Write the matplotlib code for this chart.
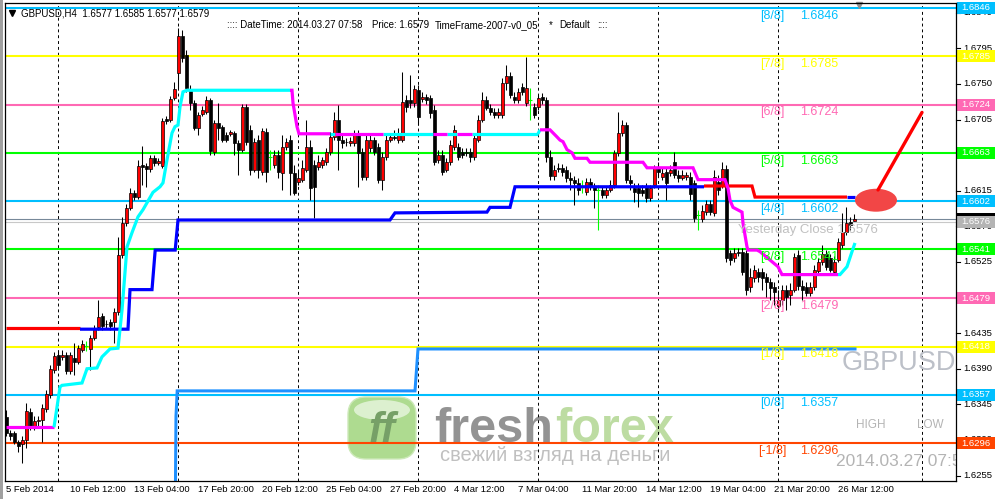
import matplotlib
matplotlib.use("Agg")
import matplotlib.pyplot as plt
from matplotlib.patches import Rectangle, Ellipse, FancyBboxPatch
from matplotlib.transforms import Affine2D

plt.rcParams['font.family'] = ['Liberation Sans', 'DejaVu Sans']

# ---------------- data (GBPUSD H4) ----------------
opens = [
    1.6329, 1.6309, 1.6309, 1.6297, 1.6295, 1.6300, 1.6335, 1.6318, 1.6324, 1.6325,
    1.6339, 1.6357, 1.6388, 1.6407, 1.6405, 1.6407, 1.6387, 1.6404, 1.6399, 1.6414,
    1.6419, 1.6415, 1.6429, 1.6443, 1.6457, 1.6447, 1.6449, 1.6449, 1.6462, 1.6534,
    1.6574, 1.6593, 1.6612, 1.6607, 1.6648, 1.6646, 1.6643, 1.6656, 1.6650, 1.6646,
    1.6706, 1.6704, 1.6732, 1.6764, 1.6811, 1.6787, 1.6742, 1.6726, 1.6694, 1.6712,
    1.6715, 1.6730, 1.6664, 1.6701, 1.6696, 1.6685, 1.6687, 1.6688, 1.6675, 1.6667,
    1.6721, 1.6692, 1.6641, 1.6679, 1.6639, 1.6689, 1.6658, 1.6647, 1.6660, 1.6637,
    1.6670, 1.6679, 1.6637, 1.6626, 1.6629, 1.6641, 1.6670, 1.6647, 1.6645, 1.6647,
    1.6651, 1.6664, 1.6683, 1.6704, 1.6679, 1.6677, 1.6675, 1.6675, 1.6685, 1.6664,
    1.6632, 1.6669, 1.6679, 1.6670, 1.6629, 1.6658, 1.6679, 1.6683, 1.6679, 1.6679,
    1.6730, 1.6730, 1.6726, 1.6742, 1.6731, 1.6734, 1.6732, 1.6717, 1.6654, 1.6660,
    1.6641, 1.6651, 1.6670, 1.6670, 1.6664, 1.6664, 1.6664, 1.6658, 1.6679, 1.6704,
    1.6730, 1.6720, 1.6715, 1.6711, 1.6711, 1.6751, 1.6760, 1.6734, 1.6730, 1.6746,
    1.6726, 1.6730, 1.6721, 1.6721, 1.6734, 1.6730, 1.6658, 1.6634, 1.6644, 1.6644,
    1.6641, 1.6631, 1.6629, 1.6625, 1.6621, 1.6613, 1.6626, 1.6620, 1.6616, 1.6616,
    1.6610, 1.6616, 1.6622, 1.6663, 1.6688, 1.6698, 1.6629, 1.6618, 1.6618, 1.6616,
    1.6620, 1.6606, 1.6622, 1.6644, 1.6632, 1.6639, 1.6637, 1.6651, 1.6635, 1.6631,
    1.6632, 1.6632, 1.6625, 1.6584, 1.6579, 1.6588, 1.6598, 1.6587, 1.6626, 1.6622,
    1.6642, 1.6536, 1.6530, 1.6538, 1.6538, 1.6536, 1.6493, 1.6505, 1.6512, 1.6512,
    1.6506, 1.6500, 1.6493, 1.6469, 1.6477, 1.6490, 1.6483, 1.6490, 1.6534, 1.6495,
    1.6493, 1.6486, 1.6493, 1.6514, 1.6525, 1.6535, 1.6530, 1.6512, 1.6527, 1.6546,
    1.6563, 1.6576, 1.6577]
highs = [
    1.6338, 1.6313, 1.6311, 1.6300, 1.6305, 1.6347, 1.6340, 1.6330, 1.6330, 1.6345,
    1.6363, 1.6395, 1.6411, 1.6414, 1.6414, 1.6411, 1.6411, 1.6423, 1.6420, 1.6426,
    1.6425, 1.6433, 1.6445, 1.6477, 1.6460, 1.6452, 1.6453, 1.6467, 1.6557, 1.6582,
    1.6598, 1.6618, 1.6616, 1.6654, 1.6672, 1.6650, 1.6660, 1.6660, 1.6656, 1.6707,
    1.6709, 1.6735, 1.6752, 1.6821, 1.6818, 1.6793, 1.6749, 1.6730, 1.6715, 1.6722,
    1.6735, 1.6732, 1.6704, 1.6726, 1.6698, 1.6689, 1.6692, 1.6691, 1.6679, 1.6725,
    1.6725, 1.6698, 1.6682, 1.6685, 1.6694, 1.6694, 1.6667, 1.6667, 1.6667, 1.6685,
    1.6682, 1.6685, 1.6647, 1.6641, 1.6654, 1.6704, 1.6679, 1.6654, 1.6660, 1.6658,
    1.6669, 1.6689, 1.6715, 1.6723, 1.6685, 1.6682, 1.6683, 1.6692, 1.6692, 1.6669,
    1.6685, 1.6685, 1.6683, 1.6675, 1.6664, 1.6685, 1.6688, 1.6692, 1.6694, 1.6765,
    1.6736, 1.6761, 1.6749, 1.6749, 1.6740, 1.6737, 1.6736, 1.6723, 1.6667, 1.6667,
    1.6656, 1.6679, 1.6698, 1.6675, 1.6669, 1.6669, 1.6669, 1.6685, 1.6711, 1.6740,
    1.6735, 1.6725, 1.6720, 1.6720, 1.6758, 1.6774, 1.6765, 1.6740, 1.6745, 1.6751,
    1.6784, 1.6745, 1.6726, 1.6736, 1.6739, 1.6734, 1.6667, 1.6647, 1.6650, 1.6649,
    1.6646, 1.6639, 1.6634, 1.6631, 1.6629, 1.6631, 1.6631, 1.6625, 1.6622, 1.6621,
    1.6621, 1.6629, 1.6667, 1.6715, 1.6704, 1.6702, 1.6635, 1.6625, 1.6625, 1.6622,
    1.6625, 1.6622, 1.6647, 1.6651, 1.6644, 1.6645, 1.6647, 1.6664, 1.6641, 1.6641,
    1.6639, 1.6639, 1.6629, 1.6591, 1.6597, 1.6603, 1.6603, 1.6641, 1.6635, 1.6651,
    1.6647, 1.6540, 1.6543, 1.6543, 1.6543, 1.6540, 1.6517, 1.6521, 1.6517, 1.6517,
    1.6511, 1.6505, 1.6500, 1.6490, 1.6496, 1.6496, 1.6498, 1.6536, 1.6540, 1.6502,
    1.6500, 1.6500, 1.6521, 1.6530, 1.6546, 1.6540, 1.6535, 1.6532, 1.6555, 1.6587,
    1.6594, 1.6582, 1.6585]
lows = [
    1.6305, 1.6300, 1.6295, 1.6285, 1.6271, 1.6290, 1.6313, 1.6313, 1.6318, 1.6297,
    1.6335, 1.6353, 1.6385, 1.6391, 1.6401, 1.6383, 1.6383, 1.6382, 1.6396, 1.6411,
    1.6412, 1.6388, 1.6426, 1.6439, 1.6439, 1.6441, 1.6439, 1.6423, 1.6458, 1.6530,
    1.6570, 1.6591, 1.6603, 1.6605, 1.6622, 1.6620, 1.6639, 1.6646, 1.6648, 1.6644,
    1.6699, 1.6702, 1.6730, 1.6745, 1.6778, 1.6740, 1.6717, 1.6692, 1.6685, 1.6709,
    1.6712, 1.6660, 1.6660, 1.6679, 1.6677, 1.6677, 1.6684, 1.6660, 1.6635, 1.6664,
    1.6673, 1.6635, 1.6639, 1.6631, 1.6635, 1.6626, 1.6641, 1.6644, 1.6631, 1.6616,
    1.6667, 1.6610, 1.6610, 1.6622, 1.6626, 1.6639, 1.6603, 1.6580, 1.6641, 1.6644,
    1.6647, 1.6660, 1.6679, 1.6641, 1.6669, 1.6672, 1.6672, 1.6672, 1.6620, 1.6629,
    1.6629, 1.6664, 1.6660, 1.6625, 1.6616, 1.6654, 1.6677, 1.6679, 1.6675, 1.6677,
    1.6715, 1.6720, 1.6721, 1.6698, 1.6727, 1.6725, 1.6707, 1.6647, 1.6650, 1.6635,
    1.6639, 1.6647, 1.6667, 1.6654, 1.6656, 1.6659, 1.6651, 1.6654, 1.6677, 1.6702,
    1.6717, 1.6711, 1.6707, 1.6707, 1.6707, 1.6742, 1.6732, 1.6726, 1.6726, 1.6736,
    1.6722, 1.6704, 1.6707, 1.6717, 1.6725, 1.6651, 1.6629, 1.6629, 1.6639, 1.6634,
    1.6626, 1.6616, 1.6597, 1.6610, 1.6612, 1.6610, 1.6616, 1.6593, 1.6565, 1.6606,
    1.6606, 1.6613, 1.6618, 1.6659, 1.6684, 1.6625, 1.6616, 1.6601, 1.6594, 1.6608,
    1.6601, 1.6602, 1.6618, 1.6634, 1.6629, 1.6603, 1.6634, 1.6631, 1.6626, 1.6629,
    1.6629, 1.6603, 1.6576, 1.6565, 1.6576, 1.6584, 1.6584, 1.6583, 1.6610, 1.6618,
    1.6525, 1.6521, 1.6525, 1.6532, 1.6508, 1.6483, 1.6487, 1.6500, 1.6500, 1.6490,
    1.6481, 1.6477, 1.6471, 1.6462, 1.6471, 1.6464, 1.6471, 1.6487, 1.6490, 1.6477,
    1.6482, 1.6482, 1.6490, 1.6510, 1.6521, 1.6515, 1.6512, 1.6508, 1.6525, 1.6543,
    1.6559, 1.6565, 1.6577]
closes = [
    1.6309, 1.6305, 1.6297, 1.6292, 1.6300, 1.6337, 1.6318, 1.6324, 1.6325, 1.6340,
    1.6358, 1.6390, 1.6406, 1.6395, 1.6407, 1.6387, 1.6407, 1.6399, 1.6416, 1.6421,
    1.6419, 1.6429, 1.6440, 1.6455, 1.6444, 1.6446, 1.6444, 1.6462, 1.6534, 1.6574,
    1.6593, 1.6612, 1.6607, 1.6646, 1.6645, 1.6643, 1.6656, 1.6650, 1.6653, 1.6703,
    1.6703, 1.6731, 1.6744, 1.6811, 1.6783, 1.6745, 1.6726, 1.6694, 1.6711, 1.6717,
    1.6730, 1.6665, 1.6701, 1.6694, 1.6679, 1.6679, 1.6689, 1.6675, 1.6667, 1.6721,
    1.6677, 1.6641, 1.6677, 1.6641, 1.6691, 1.6639, 1.6658, 1.6660, 1.6639, 1.6670,
    1.6677, 1.6637, 1.6612, 1.6631, 1.6644, 1.6670, 1.6618, 1.6620, 1.6651, 1.6654,
    1.6664, 1.6683, 1.6704, 1.6679, 1.6675, 1.6676, 1.6678, 1.6685, 1.6663, 1.6632,
    1.6679, 1.6679, 1.6664, 1.6629, 1.6658, 1.6679, 1.6683, 1.6682, 1.6688, 1.6727,
    1.6721, 1.6726, 1.6744, 1.6708, 1.6734, 1.6730, 1.6713, 1.6651, 1.6660, 1.6639,
    1.6651, 1.6673, 1.6692, 1.6658, 1.6660, 1.6663, 1.6658, 1.6682, 1.6704, 1.6730,
    1.6720, 1.6715, 1.6711, 1.6715, 1.6751, 1.6760, 1.6736, 1.6730, 1.6740, 1.6740,
    1.6745, 1.6730, 1.6711, 1.6732, 1.6730, 1.6658, 1.6634, 1.6641, 1.6643, 1.6639,
    1.6631, 1.6629, 1.6625, 1.6616, 1.6621, 1.6626, 1.6620, 1.6616, 1.6616, 1.6610,
    1.6616, 1.6622, 1.6663, 1.6688, 1.6698, 1.6629, 1.6625, 1.6613, 1.6612, 1.6612,
    1.6606, 1.6618, 1.6644, 1.6639, 1.6637, 1.6625, 1.6641, 1.6635, 1.6631, 1.6635,
    1.6635, 1.6611, 1.6580, 1.6584, 1.6589, 1.6598, 1.6588, 1.6632, 1.6616, 1.6642,
    1.6530, 1.6527, 1.6536, 1.6536, 1.6512, 1.6490, 1.6506, 1.6515, 1.6506, 1.6505,
    1.6500, 1.6492, 1.6487, 1.6477, 1.6490, 1.6481, 1.6490, 1.6531, 1.6495, 1.6490,
    1.6486, 1.6493, 1.6515, 1.6525, 1.6535, 1.6519, 1.6515, 1.6525, 1.6550, 1.6563,
    1.6574, 1.6572, 1.6579]

date_labels = ["5 Feb 2014", "10 Feb 12:00", "13 Feb 04:00", "17 Feb 20:00",
               "20 Feb 12:00", "25 Feb 04:00", "27 Feb 20:00", "4 Mar 12:00",
               "7 Mar 04:00", "11 Mar 20:00", "14 Mar 12:00", "19 Mar 04:00",
               "21 Mar 20:00", "26 Mar 12:00"]
date_label_bars = [0, 16, 32, 48, 64, 80, 96, 112, 128, 144, 160, 176, 192, 208]
week_bars = [13, 43, 73, 103, 133, 163, 193, 229]

murrey_names = ['[8/8]', '[7/8]', '[6/8]', '[5/8]', '[4/8]', '[3/8]', '[2/8]', '[1/8]', '[0/8]', '[-1/8]']
murrey_levels = [1.6846, 1.6785, 1.6724, 1.6663, 1.6602, 1.6541, 1.6479, 1.6418, 1.6357, 1.6296]
murrey_colors = ['#00BFFF', '#FFFF00', '#FF69B4', '#00FF00', '#00BFFF',
                 '#00FF00', '#FF69B4', '#FFFF00', '#00BFFF', '#FF4500']

bid_price = 1.6579
yesterday_close = 1.6576
price_ticks = [1.6840, 1.6795, 1.6750, 1.6705, 1.6615, 1.6570, 1.6525,
               1.6435, 1.6390, 1.6345, 1.6300, 1.6255]

# trailing stop (blue = up, red = down)
stop_red1_x = [0, 18.5]
stop_red1_y = [1.6441, 1.6441]
stop_blue1_x = [18.5, 30.5, 31, 36.5, 37.3, 42.3, 43, 96, 97.25, 120.25, 121, 126, 127.25, 174.5]
stop_blue1_y = [1.6440, 1.6440, 1.6490, 1.6490, 1.6540, 1.6540, 1.6578, 1.6578, 1.6587,
                1.6588, 1.6594, 1.6594, 1.6620, 1.6620]
stop_red2_x = [174.5, 186.5, 187.25, 210.25]
stop_red2_y = [1.6621, 1.6621, 1.6607, 1.6607]
stop_blue2_x = [210.25, 212.25]
stop_blue2_y = [1.6607, 1.6607]

# second trailing line (cyan = up, magenta = down)
trail_mag1_x = [0, 12]
trail_mag1_y = [1.6316, 1.6316]
trail_cyan1_x = [12, 13.5, 14, 19, 20.25, 22.75, 24, 26, 28, 29, 30.25, 31.5, 33, 34.25,
                 36.75, 38.5, 39.25, 40.25, 41.5, 42.25, 43, 43.5, 44.25, 45.25, 71]
trail_cyan1_y = [1.6316, 1.6367, 1.6369, 1.6372, 1.6390, 1.6391, 1.6405, 1.6415, 1.6416,
                 1.6464, 1.6544, 1.6562, 1.6582, 1.6591, 1.6613, 1.6620, 1.6625, 1.6654,
                 1.6688, 1.6696, 1.6698, 1.6721, 1.6740, 1.6742, 1.6742]
trail_mag2_x = [71, 71.5, 71.75, 72.75, 73.25, 81]
trail_mag2_y = [1.6742, 1.6742, 1.6726, 1.6696, 1.6687, 1.6687]
trail_flat_level = 1.6687
trail_flat_cyan = [(81, 82.25), (94.25, 106.75), (110.25, 112.75), (116.5, 133)]
trail_flat_mag = [(82.25, 94.25), (106.75, 110.25), (112.75, 116.5)]
trail_cyan2_x = [133, 133.5]
trail_cyan2_y = [1.6687, 1.6692]
trail_mag3_x = [133.5, 136, 137.75, 138.5, 139.25, 140.25, 141.5, 142.25, 145.25, 146,
                159.25, 160.25, 171.75, 173, 179.75, 180.5, 181, 181.75, 184, 184.25,
                185.25, 185.5, 187.75, 188.5, 193, 194, 208]
trail_mag3_y = [1.6692, 1.6692, 1.6683, 1.6679, 1.6677, 1.6667, 1.6663, 1.6656, 1.6656,
                1.6651, 1.6651, 1.6644, 1.6644, 1.6629, 1.6629, 1.6618, 1.6603, 1.6594,
                1.6588, 1.6574, 1.6544, 1.6540, 1.6540, 1.6538, 1.6519, 1.6509, 1.6509]
trail_cyan3_x = [208, 208.5, 210.25, 211.5, 212.25]
trail_cyan3_y = [1.6509, 1.6509, 1.6519, 1.6538, 1.6549]

# long-term step line (dodger blue)
step_x = [42.3, 42.5, 42.8, 43, 102.25, 103, 212.25]
step_y = [1.6200, 1.6330, 1.6362, 1.6362, 1.6362, 1.6415, 1.6415]

# hand-drawn annotation (ellipse + line)
mark_bar, mark_price = 217.5, 1.6603
arrow_x = [218, 229]
arrow_y = [1.6616, 1.6714]

# ---------------- figure ----------------
W, H = 998, 499
fig = plt.figure(figsize=(W / 100, H / 100), dpi=100)
fig.patch.set_facecolor('white')
ax = fig.add_axes([5 / W, 18 / H, 951 / W, 478 / H])
ax.set_facecolor('white')
ax.set_xlim(-0.25, 237.5)
ax.set_ylim(1.62481, 1.68523)
ax.set_xticks([])
ax.set_yticks([])
for s in ax.spines.values():
    s.set_color('black')
    s.set_linewidth(0.9)
    s.set_zorder(10)

PX = Affine2D().scale(1 / W, -1 / H).translate(0, 1) + fig.transFigure
YT = ax.get_yaxis_transform()
XT = ax.get_xaxis_transform()

def afx(px):
    return (px - 5) / 951.0

# watermark logo (behind everything)
ax.add_patch(FancyBboxPatch((348, 397), 68, 62, boxstyle="round,pad=0,rounding_size=18",
                            transform=PX, facecolor='#aedb90', edgecolor='#cde9b9',
                            lw=1.0, zorder=0.3, clip_on=False))
ax.add_patch(Ellipse((382, 410), 56, 20, transform=PX, facecolor='#dcf0cf',
                     edgecolor='none', zorder=0.31, clip_on=False))
ax.text(382, 431, "ff", transform=PX, fontsize=30, fontweight='bold', style='italic',
        color='#76a067', ha='center', va='center', zorder=0.32)
ax.text(434, 442, "fresh", transform=PX, fontsize=35, fontweight='bold',
        color='#939393', ha='left', va='baseline', zorder=0.32)
ax.text(555, 442, "forex", transform=PX, fontsize=35, fontweight='bold',
        color='#bddc a2'.replace(' ', ''), ha='left', va='baseline', zorder=0.32)
ax.text(440, 461, "свежий взгляд на деньги", transform=PX, fontsize=14.5,
        color='#c0c0c0', ha='left', va='baseline', zorder=0.32)

# weekly dashed grid
for b in week_bars:
    ax.axvline(b, color='black', lw=0.7, ls=(0, (3, 3)), zorder=0.8)

# Murrey math levels
for name, lvl, col in zip(murrey_names, murrey_levels, murrey_colors):
    ax.axhline(lvl, color=col, lw=1.5, zorder=1)
    ax.text(191.5, lvl - 0.0010, name, color=col, fontsize=9, ha='center', va='center', zorder=6)
    ax.text(198.5, lvl - 0.0010, f"{lvl:.4f}", color=col, fontsize=9, ha='left', va='center', zorder=6)

# bid and yesterday close lines
ax.axhline(bid_price, color='#778899', lw=0.8, zorder=1.1)
ax.axhline(yesterday_close, color='#c8c8c8', lw=0.8, zorder=1.1)
ax.text(183, yesterday_close - 0.00105, f"Yesterday Close {yesterday_close:.4f}",
        color='#c0c0c0', fontsize=9.5, ha='left', va='center', zorder=6)

# step line (dodger blue)
ax.plot(step_x, step_y, color='#1E90FF', lw=2.2, zorder=2, solid_joinstyle='miter')

# candles
for i, (o, h, l, c) in enumerate(zip(opens, highs, lows, closes)):
    if abs(o - c) < 1e-9:
        ax.vlines(i, l, h, color='#00FF00', lw=0.8, zorder=3)
        ax.hlines(o, i - 0.4, i + 0.4, color='#00FF00', lw=0.8, zorder=3)
        continue
    ax.vlines(i, l, h, color='black', lw=0.75, zorder=3)
    face = '#FF0000' if c > o else 'black'
    ax.bar(i, abs(c - o), bottom=min(o, c), width=0.75, color=face,
           edgecolor='black', linewidth=0.5, zorder=3.1)

# indicator lines
kw = dict(lw=2.3, zorder=4, solid_joinstyle='miter', solid_capstyle='butt')
ax.plot(stop_red1_x, stop_red1_y, color='#FF0000', **kw)
ax.plot(stop_blue1_x, stop_blue1_y, color='#0000FF', **kw)
ax.plot(stop_red2_x, stop_red2_y, color='#FF0000', **kw)
ax.plot(stop_blue2_x, stop_blue2_y, color='#0000FF', **kw)

ax.plot(trail_mag1_x, trail_mag1_y, color='#FF00FF', **kw)
ax.plot(trail_cyan1_x, trail_cyan1_y, color='#00FFFF', **kw)
ax.plot(trail_mag2_x, trail_mag2_y, color='#FF00FF', **kw)
for a, b in trail_flat_cyan:
    ax.plot([a, b], [trail_flat_level, trail_flat_level], color='#00FFFF', **kw)
for a, b in trail_flat_mag:
    ax.plot([a, b], [trail_flat_level, trail_flat_level], color='#FF00FF', **kw)
ax.plot(trail_cyan2_x, trail_cyan2_y, color='#00FFFF', **kw)
ax.plot(trail_mag3_x, trail_mag3_y, color='#FF00FF', **kw)
ax.plot(trail_cyan3_x, trail_cyan3_y, color='#00FFFF', **kw)

# annotation
ax.add_patch(Ellipse((mark_bar, mark_price), 10.5, 0.0029, facecolor='#f24646',
                     edgecolor='none', zorder=5))
ax.plot(arrow_x, arrow_y, color='#FF0000', lw=2.4, zorder=5, solid_capstyle='round')

# text overlays
ax.text(842, 363, "GBPUSD", transform=PX, fontsize=19.5, color='#bcc0c8',
        ha='left', va='center', zorder=6)
ax.text(856, 425, "HIGH", transform=PX, fontsize=8.5, color='#b4b4b4', ha='left', va='center', zorder=6)
ax.text(917, 425, "LOW", transform=PX, fontsize=8.5, color='#b4b4b4', ha='left', va='center', zorder=6)
t = ax.text(836, 462, "2014.03.27 07:58", transform=PX, fontsize=12.5, color='#b4b4b4',
            ha='left', va='center', zorder=6)
t.set_clip_on(True)
t.set_clip_box(ax.bbox)

ax.plot([12.5], [13], marker='v', color='black', markersize=5, transform=PX, clip_on=False, zorder=7)
ax.text(21, 13, "GBPUSD,H4  1.6577 1.6585 1.6577 1.6579", transform=PX, fontsize=7,
        color='black', ha='left', va='center', zorder=7)
ax.text(227, 25, ":::: DateTime: 2014.03.27 07:58", transform=PX, fontsize=7,
        color='black', ha='left', va='center', zorder=7)
ax.text(372, 25, "Price: 1.6579", transform=PX, fontsize=7, color='black', ha='left', va='center', zorder=7)
ax.text(435, 25, "TimeFrame-2007-v0_05", transform=PX, fontsize=7, color='black', ha='left', va='center', zorder=7)
ax.text(549, 25, "*", transform=PX, fontsize=7, color='black', ha='left', va='center', zorder=7)
ax.text(559, 25, "Default", transform=PX, fontsize=7, color='black', ha='left', va='center', zorder=7)
ax.text(597, 25, "::::", transform=PX, fontsize=7, color='black', ha='left', va='center', zorder=7)
ax.plot([859], [5], marker='v', color='#909090', markersize=5, transform=PX, clip_on=False, zorder=7)

# x-axis date labels
for b, lab in zip(date_label_bars, date_labels):
    ax.text(b, -9 / 478, lab, transform=XT, fontsize=6.8, ha='left', va='center', clip_on=False)

# price axis ticks
for p in price_ticks:
    ax.plot([1.0, afx(960)], [p, p], color='black', lw=0.8, transform=YT, clip_on=False)
    ax.text(afx(963), p, f"{p:.4f}", transform=YT, fontsize=6.8, ha='left', va='center', clip_on=False)

def price_box(p, col, txt=None):
    hgt = 12 * 0.0001264
    ax.add_patch(Rectangle((afx(957), p - hgt / 2), afx(995) - afx(957), hgt, transform=YT,
                           facecolor=col, edgecolor='none', clip_on=False, zorder=8))
    if txt:
        ax.text((afx(957) + afx(995)) / 2, p, txt, transform=YT, fontsize=6.8, color='white',
                ha='center', va='center', clip_on=False, zorder=9)

for lvl, col in zip(murrey_levels, murrey_colors):
    price_box(lvl, col, f"{lvl:.4f}")
price_box(bid_price, 'black')
price_box(yesterday_close, '#b4b4b4', f"{yesterday_close:.4f}")

# window border on the left
fig.patches.append(Rectangle((0, 0), 2.5 / W, 1, transform=fig.transFigure,
                             facecolor='#a0a0a0', edgecolor='none'))

fig.savefig('out.png', dpi=100, facecolor='white')
